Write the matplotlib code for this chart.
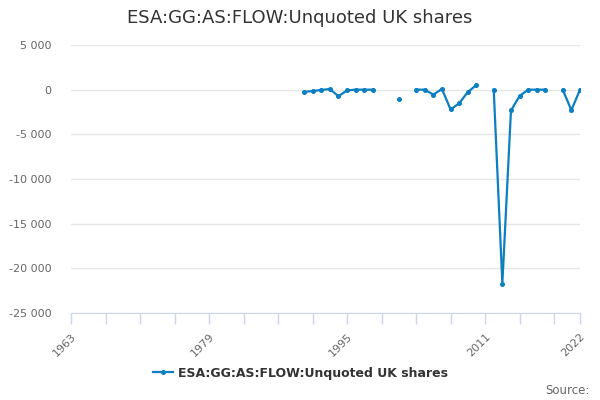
import matplotlib
matplotlib.use("Agg")
import matplotlib.pyplot as plt
import numpy as np

# Data (NaN = no value)
years = list(range(1990, 2023))
values = [
    -260, -150, -40, 80, -740, -80, 0, 0, 0,      # 1990-1998
    np.nan, np.nan, -1000, np.nan,                # 1999-2002
    0, 0, -555, 80, -2220, -1520, -260, 520,      # 2003-2010
    np.nan, 0, -21700, -2330, -700, 0, 0, 0,      # 2011-2018
    np.nan, 0, -2300, 0,                          # 2019-2022
]
series_name = "ESA:GG:AS:FLOW:Unquoted UK shares"
x_ticks = list(range(1963, 2022, 4)) + [2022]
x_labels = ["1963", "1979", "1995", "2011", "2022"]
y_ticks = [5000, 0, -5000, -10000, -15000, -20000, -25000]

line_col = "#0b7fc1"

fig = plt.figure(figsize=(6, 4), dpi=100)
ax = fig.add_axes([71 / 600, 1 - 313 / 400, 509 / 600, 268 / 400])

ax.plot(years, values, color=line_col, linewidth=1.6, marker="o",
        markersize=2.6, label=series_name)

ax.set_xlim(1963, 2022)
ax.set_ylim(-25000, 5000)
ax.set_yticks(y_ticks)
ax.set_yticklabels([f"{v:,}".replace(",", " ") for v in y_ticks])
ax.grid(axis="y", color="#e6e6e6", linewidth=1)
ax.set_axisbelow(True)

ax.set_xticks(x_ticks)
ax.set_xticklabels([str(t) if str(t) in x_labels else "" for t in x_ticks],
                   rotation=45, ha="right", rotation_mode="anchor")
ax.tick_params(axis="x", direction="out", colors="#ccd6eb",
               labelcolor="#666666", labelsize=8, length=8, width=1, pad=5)
ax.tick_params(axis="y", length=0, labelcolor="#666666", labelsize=8, pad=14)

for s in ["top", "right", "left"]:
    ax.spines[s].set_visible(False)
ax.spines["bottom"].set_color("#ccd6eb")

fig.text(0.5, 1 - 18 / 400, series_name, ha="center", va="center",
         fontsize=13, color="#333333")

leg = fig.legend(loc="center", bbox_to_anchor=(0.5, 1 - 373 / 400),
                 frameon=False, prop={"size": 9, "weight": "bold"},
                 handlelength=1.6, handletextpad=0.4)
for t in leg.get_texts():
    t.set_color("#333333")

fig.text(590 / 600, 1 - 391 / 400, "Source:", ha="right", va="center",
         fontsize=8.5, color="#666666")

fig.savefig("out.png", dpi=100)
